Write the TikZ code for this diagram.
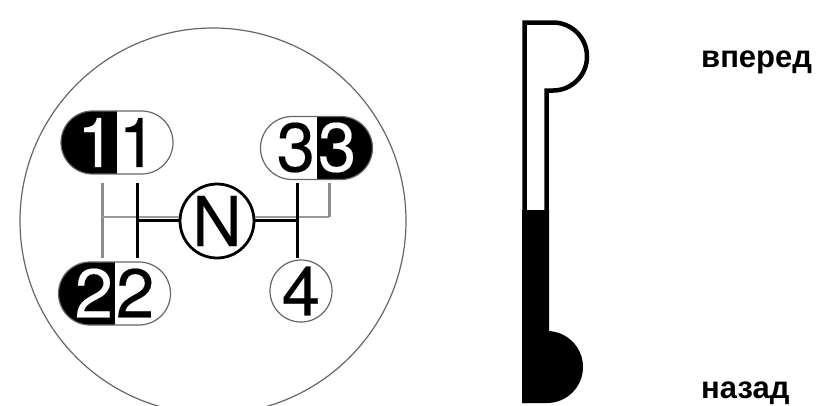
\documentclass[tikz,border=0pt]{standalone}
\usepackage{fontspec}
\setmainfont{Liberation Sans}
\newfontfamily\gearface[FakeBold=0.25]{TeX Gyre Heros}
\newcommand{\gearpair}[3]{\raisebox{#1}{#2\kern3pt #3}}
\usetikzlibrary{shapes.misc}

\begin{document}
\begin{tikzpicture}[
    x=1pt, y=-1pt,
    gearfont/.style={font=\gearface\fontsize{69}{69}\selectfont},
    leftpill/.style={rounded rectangle, draw=black!60, line width=1.2pt, minimum width=112pt, minimum height=63pt, inner sep=0pt, gearfont,
        path picture={
            \fill[black] (path picture bounding box.south west) rectangle (path picture bounding box.north);
        }
    },
    rightpill/.style={rounded rectangle, draw=black!60, line width=1.2pt, minimum width=112pt, minimum height=63pt, inner sep=0pt, gearfont,
        path picture={
            \fill[black] (path picture bounding box.south) rectangle (path picture bounding box.north east);
        }
    },
    blackline/.style={line width=3pt, black},
    grayline/.style={line width=3pt, black!45},
    grayrun/.style={line width=2.2pt, black!40},
    wordlabel/.style={font=\fontsize{31}{31}\selectfont\bfseries, anchor=base west, inner sep=0pt}
]
\useasboundingbox (0, 0) rectangle (816, 405);

% ===== Left Side: Gear Dial =====
\node[circle, draw=black!60, line width=1.2pt, minimum size=386pt, inner sep=0pt] (dial) at (213, 221) {};

% Gear positions
\node[leftpill] (gear1) at (117, 142.5) {\gearpair{-2pt}{\textcolor{white}{1}}{1}};
\node[rightpill] (gear3) at (316.5, 148) {\gearpair{2pt}{3}{\textcolor{white}{3}}};
\node[leftpill] (gear2) at (114.5, 293.5) {\gearpair{1pt}{\textcolor{white}{2}}{2}};
\node[circle, draw=black!60, line width=1.2pt, minimum size=58pt, inner sep=0pt, gearfont] (gear4) at (301, 291) {4};
\node[circle, draw=black, line width=2.8pt, minimum size=74pt, inner sep=0pt, gearfont] (neutral) at (217, 221) {N};

% Free ends of the shift lines
\coordinate (g1_top) at (102, 183);
\coordinate (g1_mid) at (102, 217);
\coordinate (g2_bot) at (102, 258);
\coordinate (b1_top) at (137, 183);
\coordinate (b1_mid) at (137, 220);
\coordinate (b2_bot) at (137, 258);
\coordinate (b3_top) at (297, 183);
\coordinate (b3_mid) at (297, 220);
\coordinate (b4_bot) at (297, 258);
\coordinate (g3_top) at (329, 183);
\coordinate (g3_mid) at (329, 217);

% Gray lines
\draw[grayline] (g1_top) -- (g2_bot);
\draw[grayrun] (g1_mid) -- (g1_mid -| neutral.west);
\draw[grayrun] (g1_mid -| neutral.east) -- (g3_mid);
\draw[grayline] (g3_mid) -- (g3_top);

% Black lines
\draw[blackline] (b1_top) -- (b2_bot);
\draw[blackline] (b3_top) -- (b4_bot);
\draw[blackline] (b1_mid) -- (b1_mid -| neutral.west);
\draw[blackline] (b3_mid) -- (b3_mid -| neutral.east);

% ===== Right Side: Lever =====
\draw[line width=4.5pt, black, line join=miter] (524.5, 403) -- (524.5, 22.5) -- (553, 22.5) arc (-90:90:34) -- (546.5, 90.5) -- (546.5, 331);
\fill[black] (522, 210) -- (549, 210) -- (549, 331) -- (547, 331) arc (-90:90:36) -- (522, 403) -- cycle;

% Labels
\node[wordlabel] (forward) at (701, 67) {вперед};
\node[wordlabel] (backward) at (701, 398) {назад};

\end{tikzpicture}
\end{document}
